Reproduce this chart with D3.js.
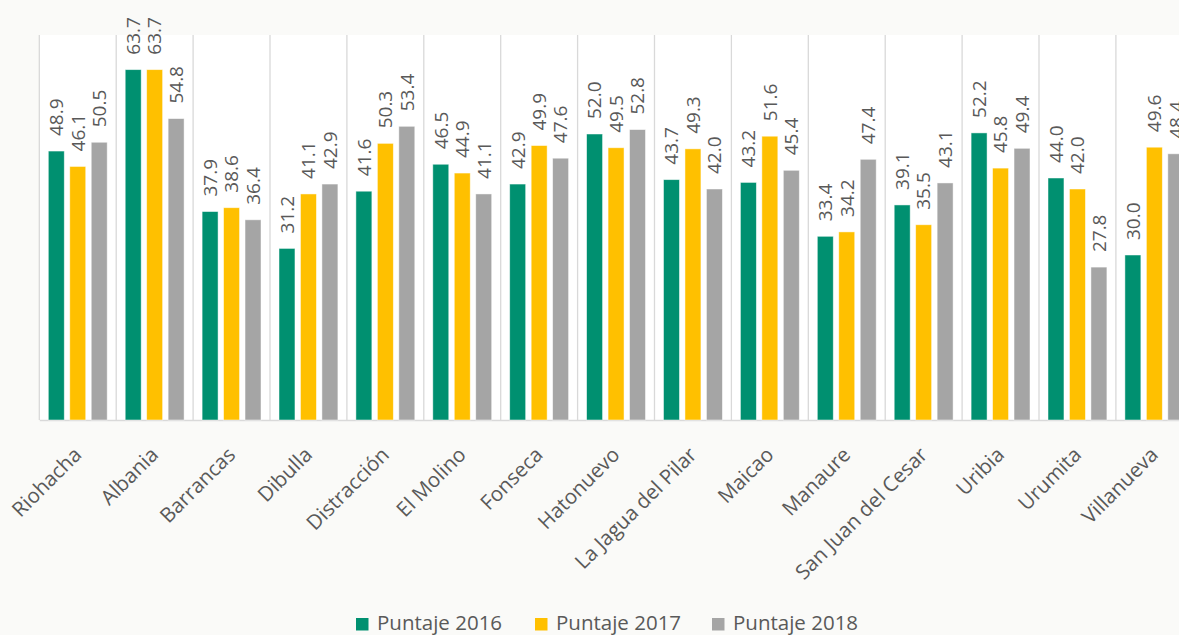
<!DOCTYPE html>
<html>
<head>
<meta charset="utf-8">
<script src="https://cdn.jsdelivr.net/npm/d3@7/dist/d3.min.js"></script>
<style>
  html, body { margin: 0; padding: 0; background: #fafaf8; }
  svg { display: block; font-family: "Open Sans", sans-serif; }
</style>
</head>
<body>
<svg id="chart" width="1179" height="635"></svg>
<script>
const categories = ["Riohacha", "Albania", "Barrancas", "Dibulla", "Distracción", "El Molino", "Fonseca", "Hatonuevo", "La Jagua del Pilar", "Maicao", "Manaure", "San Juan del Cesar", "Uribia", "Urumita", "Villanueva"];
const seriesNames = ["Puntaje 2016", "Puntaje 2017", "Puntaje 2018"];
const values2016 = [48.9, 63.7, 37.9, 31.2, 41.6, 46.5, 42.9, 52.0, 43.7, 43.2, 33.4, 39.1, 52.2, 44.0, 30.0];
const values2017 = [46.1, 63.7, 38.6, 41.1, 50.3, 44.9, 49.9, 49.5, 49.3, 51.6, 34.2, 35.5, 45.8, 42.0, 49.6];
const values2018 = [50.5, 54.8, 36.4, 42.9, 53.4, 41.1, 47.6, 52.8, 42.0, 45.4, 47.4, 43.1, 49.4, 27.8, 48.4];
const colors = ["#009070", "#FFC000", "#A5A5A5"];
const yMax = 70;

const seriesValues = [values2016, values2017, values2018];
const svg = d3.select("#chart");

const plotLeft = 39.3, plotStep = 76.9, plotTop = 35, plotBottom = 420;
const x0 = d3.scaleBand().domain(categories).range([plotLeft, plotLeft + plotStep * categories.length]).paddingInner(0).paddingOuter(0);
const x1 = d3.scaleBand().domain(seriesNames).range([9, x0.bandwidth() - 9]).paddingInner(0.256).paddingOuter(0);
const y = d3.scaleLinear().domain([0, yMax]).range([plotBottom, plotTop]);

// plot background
svg.append("rect").attr("x", plotLeft).attr("y", plotTop).attr("width", 1179 - plotLeft).attr("height", plotBottom - plotTop).attr("fill", "#ffffff");

// vertical grid lines at category boundaries
const bounds = categories.map(c => x0(c)).concat([x0(categories[categories.length - 1]) + x0.step()]);
svg.append("g").selectAll("line").data(bounds).join("line")
  .attr("x1", d => d).attr("x2", d => d)
  .attr("y1", plotTop).attr("y2", plotBottom)
  .attr("stroke", "#d9d9d9").attr("stroke-width", 1.3);

// baseline axis
const xAxis = d3.axisBottom(x0).tickSize(0).tickPadding(0);
const axisG = svg.append("g").attr("transform", `translate(0,${plotBottom})`).call(xAxis);
axisG.select(".domain").attr("stroke", "#d9d9d9").attr("stroke-width", 1.5);
axisG.selectAll(".tick text")
  .attr("fill", "#595959")
  .style("font-size", "20.5px")
  .style("font-family", "'Open Sans', sans-serif")
  .attr("text-anchor", "end")
  .attr("dy", null).attr("y", null)
  .attr("transform", "translate(5,36) rotate(-45)");

// bars
const groups = svg.append("g").selectAll("g").data(categories).join("g")
  .attr("transform", d => `translate(${x0(d)},0)`);

groups.selectAll("rect").data((c, i) => seriesNames.map((s, j) => ({ s, v: seriesValues[j][i], j })))
  .join("rect")
  .attr("x", d => x1(d.s))
  .attr("width", x1.bandwidth())
  .attr("y", d => y(d.v))
  .attr("height", d => y(0) - y(d.v))
  .attr("fill", d => colors[d.j])
  .attr("stroke", "#ffffff").attr("stroke-opacity", 0.6).attr("stroke-width", 0.8);

groups.selectAll("text.val").data((c, i) => seriesNames.map((s, j) => ({ s, v: seriesValues[j][i], j })))
  .join("text")
  .attr("class", "val")
  .attr("transform", d => `translate(${x1(d.s) + x1.bandwidth() / 2},${y(d.v) - 15}) rotate(-90)`)
  .attr("dy", "0.36em")
  .attr("text-anchor", "start")
  .attr("fill", "#595959")
  .style("font-size", "19px")
  .text(d => d.v.toFixed(1));

// legend
const legendX = [356, 535, 712];
const legend = svg.append("g").selectAll("g").data(seriesNames).join("g")
  .attr("transform", (d, i) => `translate(${legendX[i]},0)`);
legend.append("rect").attr("x", 0).attr("y", 618).attr("width", 12.5).attr("height", 12.5)
  .attr("fill", (d, i) => colors[i]);
legend.append("text").attr("x", 21).attr("y", 630)
  .attr("fill", "#595959").style("font-size", "20.5px").text(d => d);
</script>
</body>
</html>
